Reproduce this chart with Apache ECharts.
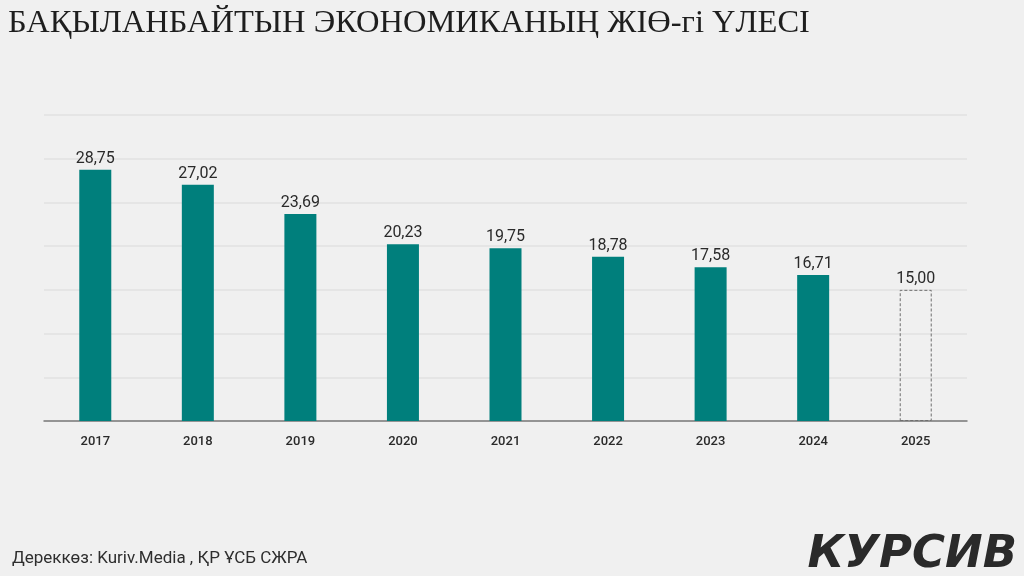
<!DOCTYPE html>
<html>
<head>
<meta charset="utf-8">
<script src="https://cdn.jsdelivr.net/npm/echarts@6/dist/echarts.min.js"></script>
<style>
html,body{margin:0;padding:0;background:#f0f0f0;}
#c{width:1024px;height:576px;}
</style>
</head>
<body>
<div id="c"></div>
<script>
const categories = ['2017','2018','2019','2020','2021','2022','2023','2024','2025'];
const values = [28.75, 27.02, 23.69, 20.23, 19.75, 18.78, 17.58, 16.71, 15.00];
const forecastIndex = 8;
const titleText = 'БАҚЫЛАНБАЙТЫН ЭКОНОМИКАНЫҢ ЖІӨ-гі ҮЛЕСІ';
const sourceText = 'Дереккөз: Kuriv.Media , ҚР ҰСБ СЖРА';
const logoText = 'КУРСИВ';

const chart = echarts.init(document.getElementById('c'), null, {renderer:'canvas'});
const seriesData = values.map((v,i) => i === forecastIndex ? {
  value: v,
  itemStyle: {color: 'rgba(0,0,0,0)', borderColor: '#6e6e6e', borderType: [3,2], borderWidth: 1}
} : v);

chart.setOption({
  backgroundColor: '#f0f0f0',
  animation: false,
  title: [
    {text: titleText, left: 3, top: 2,
     textStyle: {fontFamily: 'Liberation Serif', fontWeight: 'normal', fontSize: 32.5, color: '#1e1e1e'}},
    {text: sourceText, left: 7, top: 545,
     textStyle: {fontFamily: 'Roboto', fontWeight: 'normal', fontSize: 17, color: '#2e2e2e'}},
    {text: logoText, right: 2, top: 528,
     textStyle: {fontFamily: 'DejaVu Sans', fontStyle: 'italic', fontWeight: 'bold', fontSize: 45, color: '#2a2a2a'}}
  ],
  grid: {left: 44, right: 57, top: 115, bottom: 155},
  xAxis: {
    type: 'category',
    data: categories,
    axisLine: {lineStyle: {color: '#7a7a7a', width: 1.5}},
    axisTick: {show: false},
    axisLabel: {color: '#2a2a2a', fontFamily: 'Roboto', fontWeight: 500, fontSize: 13, margin: 14}
  },
  yAxis: {
    type: 'value',
    min: 0, max: 35, interval: 5,
    axisLabel: {show: false},
    axisLine: {show: false},
    axisTick: {show: false},
    splitLine: {lineStyle: {color: '#e2e2e2', width: 1.5}}
  },
  series: [{
    type: 'bar',
    data: seriesData,
    barWidth: 32,
    itemStyle: {color: '#007f7c'},
    label: {
      show: true, position: 'top', distance: 3,
      color: '#2a2a2a', fontFamily: 'Roboto', fontSize: 16,
      formatter: p => p.value.toFixed(2).replace('.', ',')
    }
  }]
});
</script>
</body>
</html>
